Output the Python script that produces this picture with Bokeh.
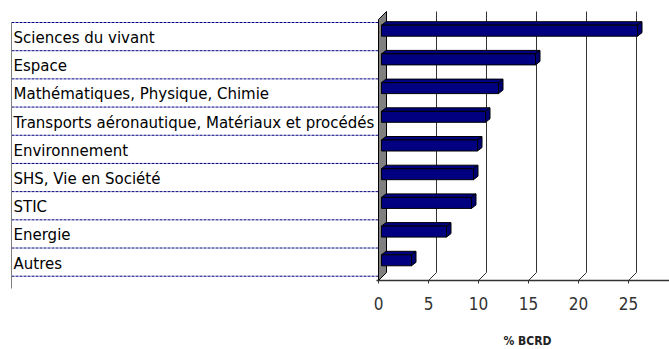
from bokeh.plotting import figure
from bokeh.models import Range1d
from bokeh.core.properties import value
from bokeh.embed import file_html
from bokeh.resources import INLINE

# Share of the BCRD budget by research field (%)
categories = [
    "Sciences du vivant",
    "Espace",
    "Mathématiques, Physique, Chimie",
    "Transports aéronautique, Matériaux et procédés",
    "Environnement",
    "SHS, Vie en Société",
    "STIC",
    "Energie",
    "Autres",
]
shares = [25.6, 15.4, 11.7, 10.4, 9.6, 9.2, 9.0, 6.5, 3.0]
tick_values = [0, 5, 10, 15, 20, 25]
tick_labels = ["0", "5", "10", "15", "20", "25"]
axis_title = "% BCRD"

W, H = 669, 349
# x in percentage units (10 px per unit, 0 at pixel 378); y in pixels, top-down
X0_PX, PX_PER_UNIT = 378, 10.0
x_start = -X0_PX / PX_PER_UNIT
x_end = (W - X0_PX) / PX_PER_UNIT

p = figure(width=W, height=H, output_backend="svg", toolbar_location=None,
           x_range=Range1d(x_start, x_end), y_range=Range1d(H, 0),
           min_border=0, outline_line_color=None)
p.axis.visible = False
p.grid.visible = False
p.background_fill_color = "white"
p.border_fill_color = "white"

# 3D frame geometry
depth_x, depth_y = 0.8, 8          # back wall offset
floor_y, top_y = 280, 11           # front floor line, top of back wall
back_floor_y = floor_y - depth_y

narrow = value("DejaVu Sans Condensed")

# ---- category table on the left ----
table_left = -36.7
row_top0, row_h = 22.0, 28.19
lines_y = [row_top0 + row_h * i for i in range(len(categories) + 1)]
p.multi_line(xs=[[table_left, 0] for _ in lines_y], ys=[[y, y] for y in lines_y],
             line_color="#000080", line_width=1, line_dash="3 1")
p.segment(x0=[table_left], y0=[row_top0], x1=[table_left], y1=[288],
          line_color="#808080", line_width=1)
p.text(x=[table_left + 0.2] * len(categories),
       y=[row_top0 + row_h * i + 15.5 for i in range(len(categories))],
       text=categories, text_font=value("DejaVu Sans"), text_font_size="15px",
       text_color="black", text_align="left", text_baseline="middle")

# ---- back wall gridlines and floor diagonals ----
gx, gy = [], []
for t in tick_values[1:]:
    gx.append([t + depth_x, t + depth_x, t])
    gy.append([top_y, back_floor_y, floor_y])
p.multi_line(xs=gx, ys=gy, line_color="#333333", line_width=1)

# ---- left side wall ----
p.patch(x=[0, 0, depth_x, depth_x], y=[floor_y, top_y + depth_y, top_y, back_floor_y],
        fill_color="#808080", line_color="black", line_width=1)

# ---- 3D bars ----
bar_x0, bar_dx, bar_dy = 0.3, 0.45, 3.5
bar_c0, bar_step, bar_half = 30.2, 28.7, 5.5
tops = [bar_c0 + bar_step * i - bar_half for i in range(len(shares))]
bottoms = [bar_c0 + bar_step * i + bar_half for i in range(len(shares))]
rights = [bar_x0 + v for v in shares]

top_xs = [[bar_x0, bar_x0 + bar_dx, r + bar_dx, r] for r in rights]
top_ys = [[t, t - bar_dy, t - bar_dy, t] for t in tops]
side_xs = [[r, r + bar_dx, r + bar_dx, r] for r in rights]
side_ys = [[t, t - bar_dy, b - bar_dy, b] for t, b in zip(tops, bottoms)]
p.patches(xs=top_xs, ys=top_ys, fill_color="#000080", line_color="black", line_width=1)
p.patches(xs=side_xs, ys=side_ys, fill_color="#000070", line_color="black", line_width=1)
p.quad(left=[bar_x0] * len(shares), right=rights, top=tops, bottom=bottoms,
       fill_color="#000080", line_color="black", line_width=1)

# ---- front value axis ----
p.segment(x0=[-0.2], y0=[floor_y], x1=[x_end], y1=[floor_y], line_color="#333333", line_width=1.5)
p.segment(x0=tick_values, y0=[floor_y] * len(tick_values), x1=tick_values,
          y1=[floor_y + 3] * len(tick_values), line_color="#333333", line_width=1)
p.text(x=tick_values, y=[303] * len(tick_values), text=tick_labels,
       text_font=narrow, text_font_size="17px",
       text_color="#333333", text_align="center", text_baseline="middle")
p.text(x=[14.9], y=[340], text=[axis_title],
       text_font=narrow, text_font_size="12px",
       text_font_style="bold", text_color="#222222",
       text_align="center", text_baseline="middle")

open("out.html", "w").write(file_html(p, INLINE))
